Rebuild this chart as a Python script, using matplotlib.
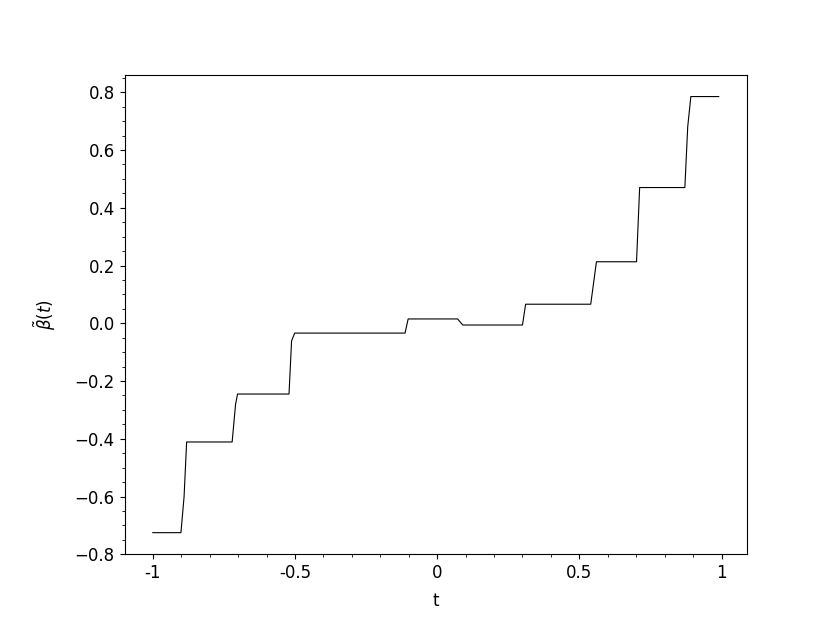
import matplotlib

matplotlib.use("Agg")

import matplotlib.pyplot as plt
from matplotlib.ticker import MultipleLocator

plt.rcParams["font.size"] = 12

# piecewise path of beta~(t)
t_vals = [-1.0, -0.901, -0.89, -0.881, -0.721, -0.709, -0.702, -0.521, -0.512, -0.501,
          -0.113, -0.102, 0.072, 0.090, 0.300, 0.311, 0.540, 0.560, 0.701, 0.712,
          0.871, 0.881, 0.892, 0.99]
beta_vals = [-0.725, -0.725, -0.60, -0.411, -0.411, -0.281, -0.245, -0.245, -0.061, -0.034,
             -0.034, 0.015, 0.015, -0.006, -0.006, 0.066, 0.066, 0.213, 0.213, 0.470,
             0.470, 0.680, 0.785, 0.785]

x_ticks = [-1, -0.5, 0, 0.5, 1]
x_tick_labels = ["-1", "-0.5", "0", "0.5", "1"]

fig = plt.figure(figsize=(8.3, 6.23), dpi=100)
ax = fig.add_axes([0.15, 0.11, 0.75, 0.77])

ax.plot(t_vals, beta_vals, color="black", linewidth=0.8)

ax.set_xticks(x_ticks)
ax.set_xticklabels(x_tick_labels)
ax.xaxis.set_minor_locator(MultipleLocator(0.1))
ax.yaxis.set_minor_locator(MultipleLocator(0.05))

ax.set_xlabel("t", labelpad=7)
ax.set_ylabel(r"$\tilde{\beta}(t)$", labelpad=12)

fig.savefig("out.png", dpi=100)
plt.close(fig)
